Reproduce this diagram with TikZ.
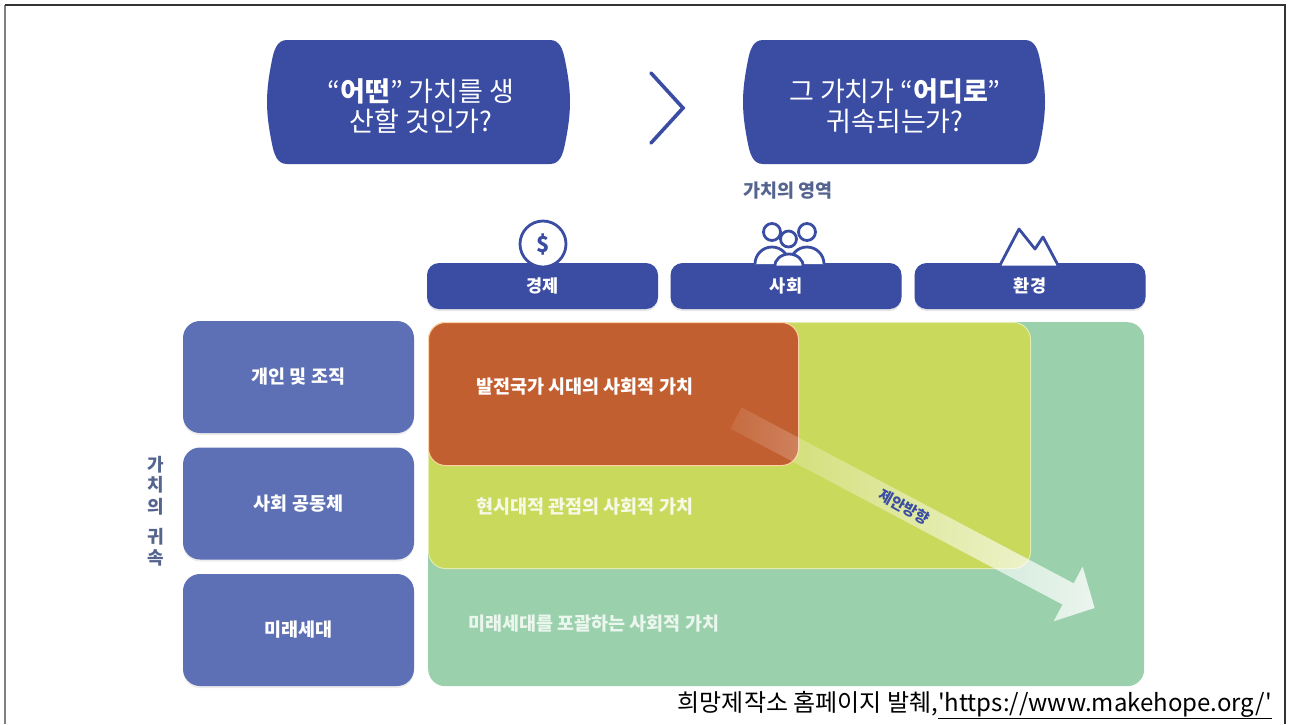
\documentclass[tikz,border=0pt]{standalone}
\usepackage{fontspec}
\setmainfont{Noto Sans CJK KR}
\usetikzlibrary{fadings,shadows}
\definecolor{navy}{HTML}{3B4DA3}
\definecolor{sideblue}{HTML}{5D70B5}
\definecolor{labelblue}{HTML}{55648F}
\definecolor{zonegreen}{HTML}{9AD0AB}
\definecolor{zoneyellow}{HTML}{C9D95C}
\definecolor{zoneorange}{HTML}{C25F30}
\tikzfading[name=arrowfade, left color=transparent!92, right color=transparent!20]
\tikzset{
    barbox/.style={fill=navy, rounded corners=12pt, minimum width=231pt, minimum height=46pt, inner sep=0pt,
        text=white, font=\fontsize{17.5}{20}\selectfont\bfseries, drop shadow={opacity=0.2, shadow xshift=0pt, shadow yshift=-2pt}},
    sidebox/.style={fill=sideblue, rounded corners=17pt, minimum width=231pt, minimum height=112pt, inner sep=0pt,
        text=white, font=\fontsize{18.5}{20}\selectfont\bfseries, drop shadow={opacity=0.15, shadow xshift=0pt, shadow yshift=-2pt}},
    zonebox/.style={rounded corners=17pt, inner sep=0pt, anchor=north west},
    zonetext/.style={text=white, anchor=west, inner sep=0pt, font=\fontsize{18.5}{20}\selectfont\bfseries},
    headtext/.style={text=white, align=center, inner sep=0pt, font=\fontsize{27}{30}\selectfont},
    iconline/.style={draw=navy, line width=2.8pt, fill=white, line join=round},
    vertchar/.style={text=labelblue, inner sep=0pt, font=\fontsize{18}{18}\selectfont\bfseries}
}
\begin{document}
\begin{tikzpicture}[x=1pt, y=-1pt]
    \useasboundingbox (0,0) rectangle (1291,724);

    % Outer frame
    \draw[line width=1.5pt, black!50] (5,724) -- (5,5);
    \draw[line width=1.5pt, black!80] (5,5) -- (1285,5) -- (1285,724);

    % Top barrels
    \foreach \xl/\xr in {267/570, 743/1045} {
        \fill[navy] (\xl+20,40) -- (\xr-20,40) .. controls (\xr-10,40) and (\xr-7,50) .. (\xr-5,60)
            .. controls (\xr-2,75) and (\xr,88) .. (\xr,102)
            .. controls (\xr,116) and (\xr-2,129) .. (\xr-5,144)
            .. controls (\xr-7,154) and (\xr-10,164) .. (\xr-20,164) -- (\xl+20,164)
            .. controls (\xl+10,164) and (\xl+7,154) .. (\xl+5,144)
            .. controls (\xl+2,129) and (\xl,116) .. (\xl,102)
            .. controls (\xl,88) and (\xl+2,75) .. (\xl+5,60)
            .. controls (\xl+7,50) and (\xl+10,40) .. (\xl+20,40) -- cycle;
    }
    \node[headtext] (askWhat) at (421,106) {“\textbf{어떤}” 가치를 생\\산할 것인가?};
    \node[headtext] (askWhere) at (895,106) {그 가치가 “\textbf{어디로}”\\귀속되는가?};

    % Chevron between barrels
    \draw[navy, line width=3.6pt, line cap=round, line join=miter] (651,73) -- (683,108) -- (651,143);

    \node[text=labelblue, inner sep=0pt, font=\fontsize{18.5}{20}\selectfont\bfseries] (areaTitle) at (788,191) {가치의 영역};

    % Value areas
    \foreach \cx/\name/\txt in {542.5/econ/경제, 786/social/사회, 1030/env/환경} {
        \node[barbox] (\name) at (\cx,286) {\txt};
    }

    % Icons
    \node[iconline, circle, minimum size=46pt, inner sep=0pt, text=navy, font=\fontsize{22}{22}\selectfont\bfseries] (dollar) at (543,244) {\$};
    \foreach \cx in {772, 807} {
        \draw[iconline] (\cx-17,264) arc[start angle=180, end angle=0, radius=17pt];
        \draw[iconline] (\cx,232) circle (8.5pt);
    }
    \draw[iconline] (788.5,239) circle (8pt);
    \draw[iconline] (774.5,267) arc[start angle=180, end angle=0, x radius=14.5pt, y radius=13pt] -- cycle;
    \draw[iconline] (999,267) -- (1019,229) -- (1035,249) -- (1043,237) -- (1059,267) -- cycle;

    % Value owners
    \foreach \cy/\name/\txt in {377/owner1/개인 및 조직, 503.5/owner2/사회 공동체, 630/owner3/미래세대} {
        \node[sidebox] (\name) at (298.5,\cy) {\txt};
    }
    \foreach \cy/\name/\txt in {465/c1/가, 485/c2/치, 507/c3/의, 537/c4/귀, 558/c5/속} {
        \node[vertchar] (\name) at (156,\cy) {\txt};
    }

    % Nested zones
    \node[zonebox, fill=zonegreen, minimum width=716pt, minimum height=364pt] (zoneFuture) at (428,322) {};
    \node[zonebox, fill=zoneyellow, draw=zoneyellow!50!white, line width=1pt, minimum width=602pt, minimum height=246pt] (zoneNow) at (428,322) {};
    \node[zonebox, fill=zoneorange, draw=orange!35!white, line width=1pt, minimum width=370pt, minimum height=143pt] (zonePast) at (428,322) {};
    \node[zonetext] (pastText) at (476,387) {발전국가 시대의 사회적 가치};
    \node[zonetext, text=white!85!zoneyellow] (nowText) at (476,507) {현시대적 관점의 사회적 가치};
    \node[zonetext, text=white!80!zonegreen] (futureText) at (468,624) {미래세대를 포괄하는 사회적 가치};

    % Proposed direction
    \begin{scope}[shift={(736,418)}, rotate=-27.9]
        \fill[white, path fading=arrowfade] (0,-12) -- (376,-12) -- (376,-31) -- (406,0)
            -- (376,31) -- (376,12) -- (0,12) -- cycle;
        \node[text=navy, inner sep=0pt, rotate=-29, font=\fontsize{15}{16}\selectfont\bfseries] (dirLabel) at (190,0) {제안방향};
    \end{scope}

    % Source line
    \node[anchor=east, inner sep=0pt, text=black, font=\fontsize{24}{28}\selectfont] (source) at (1272,705) {희망제작소 홈페이지 발췌,\underline{\textquotesingle https://www.makehope.org/\textquotesingle}};
\end{tikzpicture}
\end{document}
